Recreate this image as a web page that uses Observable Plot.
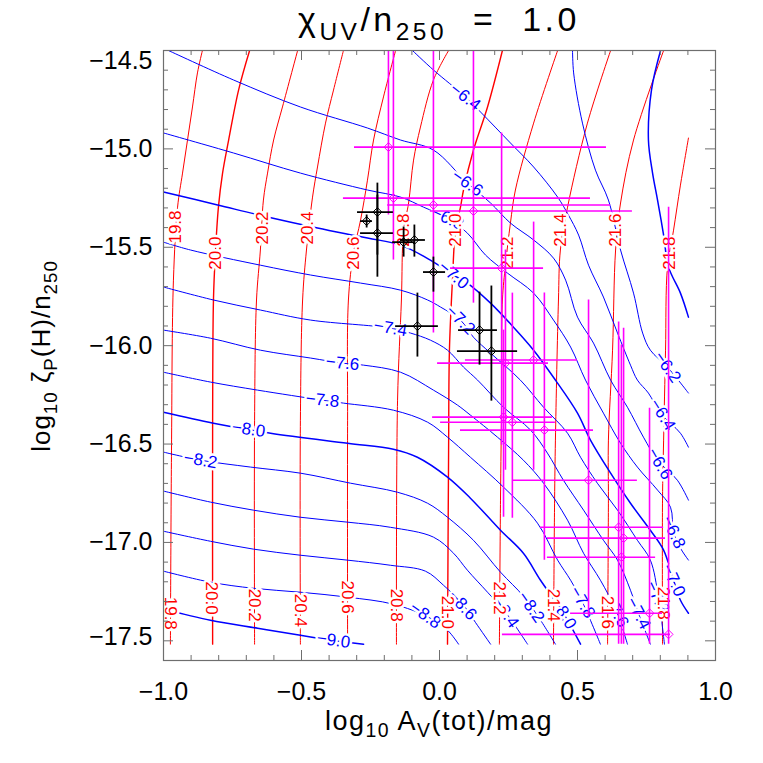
<!DOCTYPE html>
<html>
<head>
<meta charset="utf-8">
<script src="https://cdn.jsdelivr.net/npm/d3@7"></script>
<script src="https://cdn.jsdelivr.net/npm/@observablehq/plot@0.6"></script>
<style>
  html, body { margin: 0; padding: 0; background: #fff; }
  #wrap { position: relative; width: 763px; height: 763px; overflow: hidden; font-family: "Liberation Sans", Arial, sans-serif; color: #000; }
  #chart { position: absolute; left: 0; top: 0; }
  .lbl { position: absolute; white-space: pre; line-height: 1; }
  .lbl sub { font-size: 0.72em; vertical-align: -0.35em; line-height: 0; }
  #title { left: 439px; top: 2px; transform: translateX(-50%); font-size: 34px; letter-spacing: 3.5px; }
  #xlabel { left: 439px; top: 708px; transform: translateX(-50%); font-size: 27px; letter-spacing: 1.5px; }
  #ylabel { left: 41px; top: 356px; transform: translate(-50%, -50%) rotate(-90deg); font-size: 26px; letter-spacing: 1px; }
</style>
</head>
<body>
<div id="wrap">
  <div id="chart"></div>
  <div id="title" class="lbl">χ<sub>UV</sub>/n<sub>250</sub>  =  1.0</div>
  <div id="xlabel" class="lbl">log<sub>10</sub> A<sub>V</sub>(tot)/mag</div>
  <div id="ylabel" class="lbl">log<sub>10</sub> ζ<sub>P</sub>(H)/n<sub>250</sub></div>
</div>
<script>
// ---------- tick values ----------
const xMajor = [-1, -0.5, 0, 0.5, 1];
const xMinor = [-0.9,-0.8,-0.7,-0.6,-0.4,-0.3,-0.2,-0.1,0.1,0.2,0.3,0.4,0.6,0.7,0.8,0.9];
const yMajor = [-17.5,-17,-16.5,-16,-15.5,-15,-14.5];
const yMinor = [-17.4,-17.3,-17.2,-17.1,-16.9,-16.8,-16.7,-16.6,-16.4,-16.3,-16.2,-16.1,-15.9,-15.8,-15.7,-15.6,-15.4,-15.3,-15.2,-15.1,-14.9,-14.8,-14.7,-14.6];

// ---------- red contours (log N) ----------
const redLevels = [19.8, 20.0, 20.2, 20.4, 20.6, 20.8, 21.0, 21.2, 21.4, 21.6, 21.8];
const redPaths = [
 [[-0.975,-17.517],[-0.971,-16.531],[-0.964,-15.667],[-0.949,-15.296],[-0.931,-15.123],[-0.913,-14.955],[-0.895,-14.787],[-0.877,-14.614],[-0.859,-14.5]],
 [[-0.822,-17.517],[-0.822,-16.379],[-0.819,-15.768],[-0.812,-15.530],[-0.801,-15.296],[-0.786,-15.123],[-0.764,-14.955],[-0.728,-14.701],[-0.688,-14.5]],
 [[-0.670,-17.517],[-0.670,-16.379],[-0.663,-15.768],[-0.649,-15.514],[-0.638,-15.260],[-0.623,-15.123],[-0.601,-14.955],[-0.569,-14.787],[-0.514,-14.5]],
 [[-0.504,-17.517],[-0.504,-16.379],[-0.496,-15.768],[-0.482,-15.514],[-0.460,-15.245],[-0.442,-15.092],[-0.413,-14.869],[-0.384,-14.701],[-0.348,-14.5]],
 [[-0.333,-17.517],[-0.333,-16.379],[-0.330,-15.768],[-0.312,-15.530],[-0.286,-15.362],[-0.261,-15.159],[-0.239,-14.955],[-0.203,-14.736],[-0.159,-14.5]],
 [[-0.156,-17.517],[-0.152,-16.277],[-0.138,-15.768],[-0.130,-15.413],[-0.112,-15.275],[-0.094,-15.057],[-0.069,-14.889],[-0.022,-14.650],[0.033,-14.5]],
 [[0.029,-17.517],[0.033,-16.531],[0.036,-16.023],[0.047,-15.667],[0.058,-15.413],[0.076,-15.296],[0.087,-15.209],[0.123,-15.006],[0.174,-14.787],[0.228,-14.5]],
 [[0.217,-17.517],[0.221,-16.785],[0.225,-16.277],[0.228,-15.768],[0.239,-15.591],[0.257,-15.377],[0.275,-15.209],[0.341,-14.869],[0.428,-14.5]],
 [[0.413,-17.517],[0.417,-16.785],[0.420,-16.480],[0.431,-15.768],[0.438,-15.514],[0.464,-15.296],[0.536,-14.869],[0.620,-14.5]],
 [[0.609,-17.517],[0.612,-16.785],[0.612,-16.480],[0.627,-16.023],[0.638,-15.514],[0.656,-15.275],[0.703,-14.955],[0.812,-14.5]],
 [[0.808,-17.517],[0.808,-16.785],[0.812,-16.480],[0.819,-16.023],[0.826,-15.601],[0.848,-15.413],[0.873,-15.184],[0.902,-14.945]]
];
const redLabelsTop = [[-0.957,-15.397],[-0.812,-15.530],[-0.641,-15.402],[-0.478,-15.402],[-0.312,-15.530],[-0.130,-15.413],[0.058,-15.413],[0.246,-15.530],[0.438,-15.413],[0.638,-15.413],[0.833,-15.530]];
const redLabelsBottom = [[-0.975,-17.360],[-0.826,-17.283],[-0.670,-17.319],[-0.504,-17.345],[-0.333,-17.278],[-0.156,-17.319],[0.029,-17.355],[0.217,-17.283],[0.413,-17.319],[0.609,-17.355],[0.812,-17.309]];

// ---------- blue contours (log abundance) ----------
const blueLevels = [-6.0,-6.2,-6.4,-6.6,-6.8,-7.0,-7.2,-7.4,-7.6,-7.8,-8.0,-8.2,-8.4,-8.6,-8.8,-9.0];
const bluePaths = [
 [[0.801,-14.5],[0.768,-14.701],[0.757,-14.955],[0.772,-15.123],[0.790,-15.260],[0.812,-15.438],[0.830,-15.601],[0.873,-15.733],[0.902,-15.855]],
 [[0.482,-14.5],[0.486,-14.614],[0.518,-14.869],[0.565,-15.108],[0.612,-15.260],[0.656,-15.514],[0.703,-15.733],[0.736,-15.936],[0.764,-16.023],[0.826,-16.109],[0.902,-16.241]],
 [[-0.098,-14.5],[-0.022,-14.599],[0.094,-14.736],[0.149,-14.813],[0.257,-14.970],[0.341,-15.092],[0.428,-15.245],[0.467,-15.336],[0.504,-15.438],[0.540,-15.591],[0.594,-15.753],[0.645,-15.936],[0.692,-16.099],[0.717,-16.175],[0.757,-16.241],[0.801,-16.343],[0.873,-16.445],[0.902,-16.516]],
 [[-0.982,-14.5],[-0.746,-14.650],[-0.504,-14.787],[-0.261,-14.894],[-0.141,-14.955],[-0.022,-15.006],[0.101,-15.174],[0.185,-15.275],[0.257,-15.377],[0.341,-15.463],[0.413,-15.555],[0.457,-15.667],[0.500,-15.855],[0.558,-15.987],[0.620,-16.175],[0.681,-16.313],[0.739,-16.465],[0.790,-16.582],[0.862,-16.684],[0.902,-16.785]],
 [[-1.0,-14.919],[-0.746,-15.021],[-0.504,-15.123],[-0.261,-15.209],[-0.141,-15.245],[-0.058,-15.296],[0.029,-15.352],[0.101,-15.428],[0.167,-15.540],[0.246,-15.631],[0.341,-15.733],[0.413,-15.870],[0.475,-16.007],[0.529,-16.175],[0.594,-16.343],[0.656,-16.496],[0.717,-16.617],[0.790,-16.734],[0.837,-16.821],[0.848,-16.948],[0.873,-17.029],[0.902,-17.090]],
 [[-1.0,-15.219],[-0.804,-15.285],[-0.623,-15.346],[-0.442,-15.402],[-0.261,-15.453],[-0.141,-15.489],[-0.033,-15.565],[0.051,-15.641],[0.101,-15.682],[0.185,-15.784],[0.268,-15.906],[0.341,-16.023],[0.420,-16.175],[0.500,-16.343],[0.547,-16.480],[0.620,-16.648],[0.692,-16.801],[0.764,-16.938],[0.812,-17.039],[0.848,-17.192],[0.873,-17.294],[0.902,-17.360]],
 [[-1.0,-15.474],[-0.902,-15.514],[-0.649,-15.591],[-0.467,-15.641],[-0.286,-15.682],[-0.141,-15.718],[-0.043,-15.768],[0.004,-15.804],[0.076,-15.870],[0.123,-15.957],[0.185,-16.038],[0.293,-16.175],[0.377,-16.313],[0.464,-16.445],[0.511,-16.567],[0.572,-16.699],[0.645,-16.836],[0.717,-16.989],[0.764,-17.090],[0.793,-17.278],[0.815,-17.517]],
 [[-1.0,-15.702],[-0.819,-15.768],[-0.649,-15.819],[-0.467,-15.870],[-0.178,-15.911],[-0.105,-15.936],[-0.033,-15.972],[0.029,-16.023],[0.087,-16.109],[0.138,-16.175],[0.232,-16.313],[0.330,-16.429],[0.391,-16.546],[0.449,-16.684],[0.522,-16.836],[0.594,-16.989],[0.645,-17.090],[0.692,-17.243],[0.721,-17.360],[0.764,-17.517]],
 [[-1.0,-15.921],[-0.830,-15.962],[-0.649,-16.023],[-0.467,-16.063],[-0.351,-16.089],[-0.275,-16.099],[-0.141,-16.135],[-0.022,-16.226],[0.065,-16.302],[0.112,-16.353],[0.210,-16.465],[0.304,-16.582],[0.377,-16.699],[0.464,-16.887],[0.522,-17.055],[0.583,-17.192],[0.641,-17.350],[0.681,-17.517]],
 [[-1.0,-16.135],[-0.830,-16.185],[-0.659,-16.226],[-0.424,-16.277],[-0.348,-16.292],[-0.167,-16.328],[-0.043,-16.389],[0.029,-16.465],[0.112,-16.567],[0.232,-16.719],[0.355,-16.902],[0.428,-17.090],[0.475,-17.192],[0.518,-17.304],[0.583,-17.517]],
 [[-1.0,-16.338],[-0.819,-16.394],[-0.612,-16.445],[-0.333,-16.496],[-0.167,-16.526],[-0.080,-16.567],[0.029,-16.668],[0.112,-16.775],[0.221,-16.938],[0.304,-17.055],[0.366,-17.192],[0.449,-17.360],[0.511,-17.517]],
 [[-1.0,-16.541],[-0.866,-16.582],[-0.685,-16.617],[-0.504,-16.648],[-0.322,-16.699],[-0.152,-16.745],[-0.043,-16.801],[0.029,-16.872],[0.123,-16.989],[0.221,-17.151],[0.304,-17.273],[0.366,-17.395],[0.420,-17.517]],
 [[-1.0,-16.739],[-0.830,-16.795],[-0.674,-16.836],[-0.504,-16.872],[-0.333,-16.897],[-0.178,-16.923],[-0.022,-16.973],[0.051,-17.055],[0.101,-17.141],[0.174,-17.253],[0.239,-17.355],[0.319,-17.517]],
 [[-1.0,-16.943],[-0.830,-16.994],[-0.674,-17.034],[-0.504,-17.065],[-0.333,-17.090],[-0.178,-17.116],[-0.051,-17.146],[0.014,-17.217],[0.087,-17.319],[0.130,-17.406],[0.185,-17.517]],
 [[-1.0,-17.146],[-0.830,-17.202],[-0.674,-17.233],[-0.504,-17.253],[-0.333,-17.278],[-0.167,-17.314],[-0.040,-17.380],[0.029,-17.446],[0.069,-17.517]],
 [[-1.0,-17.339],[-0.830,-17.395],[-0.659,-17.436],[-0.504,-17.472],[-0.395,-17.497],[-0.275,-17.517]]
];
const thickBlueLevels = [-6.0, -7.0, -8.0, -9.0];
const thickRedLevels = [20.0, 21.0];
// blue labels: level, x, y
const blueLabels = [
 [-6.4,0.094,-14.736],[-6.6,0.101,-15.174],[-6.8,0.029,-15.352],[-7.0,0.051,-15.641],[-7.2,0.076,-15.870],
 [-7.4,-0.178,-15.911],[-7.6,-0.351,-16.089],[-7.8,-0.424,-16.277],[-8.0,-0.692,-16.425],[-8.2,-0.866,-16.582],[-9.0,-0.384,-17.497],
 [-6.2,0.826,-16.109],[-6.4,0.808,-16.350],[-6.6,0.798,-16.600],[-6.8,0.848,-16.948],[-7.0,0.848,-17.192],[-7.2,0.790,-17.278],
 [-7.4,0.721,-17.360],[-7.6,0.641,-17.350],[-7.8,0.518,-17.304],[-8.0,0.449,-17.360],[-8.2,0.332,-17.329],[-8.4,0.239,-17.355],
 [-8.6,0.083,-17.319],[-8.8,-0.051,-17.370]
];
const blueLabelAngles = [38,35,25,40,45, 10,6,6,8,10,8, 55,58,60,65,65,65, 62,62,60,58,55,55, 48,35];

// ---------- observations ----------
const magX   = [-0.185,-0.167,-0.022,0.123,0.225,0.239,0.341,0.232,0.264,0.380,0.540,0.649,0.667,0.659,0.761,0.830];
const magY   = [-14.991,-15.250,-15.285,-15.316,-15.606,-16.089,-16.073,-16.363,-16.389,-16.429,-16.684,-16.923,-16.978,-17.075,-17.360,-17.467];
const magXlo = [-0.308,-0.348,-0.188,-0.033,0.040,-0.007,0.094,-0.025,0.004,0.076,0.268,0.366,0.391,0.391,0.475,0.228];
const magXhi = [0.605,0.547,0.620,0.699,0.377,0.395,0.500,0.409,0.420,0.558,0.717,0.812,0.819,0.783,0.808,0.837];
const magYlo = [-15.336,-15.565,-15.936,-15.784,-16.506,-16.633,-16.633,-16.872,-16.877,-17.090,-17.380,-17.517,-17.517,-17.517,-17.517,-17.517];
const magYhi = [-14.5,-14.5,-14.5,-14.5,-14.919,-15.514,-15.372,-15.921,-15.733,-15.733,-15.768,-15.880,-15.911,-15.997,-16.318,-15.296];

const blkX   = [-0.264,-0.225,-0.225,-0.130,-0.091,-0.022,-0.080,0.145,0.188];
const blkY   = [-15.367,-15.321,-15.428,-15.474,-15.463,-15.626,-15.901,-15.921,-16.028];
const blkXlo = [-0.286,-0.297,-0.286,-0.170,-0.141,-0.058,-0.159,0.069,0.065];
const blkXhi = [-0.243,-0.167,-0.167,-0.087,-0.051,0.022,-0.004,0.210,0.283];
const blkYlo = [-15.402,-15.540,-15.652,-15.550,-15.550,-15.728,-16.058,-16.099,-16.282];
const blkYhi = [-15.336,-15.174,-15.235,-15.397,-15.387,-15.550,-15.733,-15.728,-15.697];

// ---------- build tables ----------
const fmt = d3.format(".1f");
const toRows = (levels, paths) => paths.flatMap((p, i) => p.map(([x, y]) => ({level: levels[i], x, y})));
const redRows = toRows(redLevels, redPaths);
const blueRows = toRows(blueLevels, bluePaths);
const isThickRed = d => thickRedLevels.includes(d.level);
const isThickBlue = d => thickBlueLevels.includes(d.level);
const redLabelRows = [
  ...redLabelsTop.map(([x, y], i) => ({x, y, text: fmt(redLevels[i]), rot: -90})),
  ...redLabelsBottom.map(([x, y], i) => ({x, y, text: fmt(redLevels[i]), rot: 90}))
];
const blueLabelRows = blueLabels.map(([lv, x, y], i) => ({x, y, text: fmt(lv), rot: blueLabelAngles[i]}));
const magRows = magX.map((x, i) => ({x, y: magY[i], xlo: magXlo[i], xhi: magXhi[i], ylo: magYlo[i], yhi: magYhi[i]}));
const blkRows = blkX.map((x, i) => ({x, y: blkY[i], xlo: blkXlo[i], xhi: blkXhi[i], ylo: blkYlo[i], yhi: blkYhi[i]}));

const W = 763, H = 763, mL = 163, mR = 48, mT = 50, mB = 103;
const fw = W - mL - mR, fh = H - mT - mB;
const tickColor = "#6e6e6e";
const MAJ = 10, MIN = 5;
const yMid = yMajor.slice(1, -1);

const chart = Plot.plot({
  width: W, height: H,
  marginLeft: mL, marginRight: mR, marginTop: mT, marginBottom: mB,
  x: {domain: [-1, 1]},
  y: {domain: [-17.6, -14.5]},
  style: {fontFamily: "'Liberation Sans', Arial, sans-serif", background: "#fff", color: "#000", overflow: "visible"},
  marks: [
    // contours
    Plot.line(redRows.filter(d => !isThickRed(d)), {x: "x", y: "y", z: "level", stroke: "#ff0000", strokeWidth: 1, curve: "catmull-rom", clip: true}),
    Plot.line(redRows.filter(isThickRed), {x: "x", y: "y", z: "level", stroke: "#ff0000", strokeWidth: 1.4, curve: "catmull-rom", clip: true}),
    Plot.line(blueRows.filter(d => !isThickBlue(d)), {x: "x", y: "y", z: "level", stroke: "#0000ff", strokeWidth: 1, curve: "catmull-rom", clip: true}),
    Plot.line(blueRows.filter(isThickBlue), {x: "x", y: "y", z: "level", stroke: "#0000ff", strokeWidth: 1.5, curve: "catmull-rom", clip: true}),
    // contour labels
    Plot.text(blueLabelRows, {x: "x", y: "y", text: "text", rotate: "rot", fill: "#0000ff", stroke: "#fff", strokeWidth: 5, fontSize: 17}),
    Plot.text(redLabelRows, {x: "x", y: "y", text: "text", rotate: "rot", fill: "#ff0000", stroke: "#fff", strokeWidth: 5, fontSize: 17}),
    // magenta observations
    Plot.ruleY(magRows, {y: "y", x1: "xlo", x2: "xhi", stroke: "#ff00ff", strokeWidth: 1.6, clip: true}),
    Plot.ruleX(magRows, {x: "x", y1: "ylo", y2: "yhi", stroke: "#ff00ff", strokeWidth: 1.6, clip: true}),
    Plot.dot(magRows, {x: "x", y: "y", symbol: "diamond2", r: 4, stroke: "#ff00ff", strokeWidth: 1, fill: "#fff", fillOpacity: 0}),
    // black observations
    Plot.ruleY(blkRows, {y: "y", x1: "xlo", x2: "xhi", stroke: "#000", strokeWidth: 1.8}),
    Plot.ruleX(blkRows, {x: "x", y1: "ylo", y2: "yhi", stroke: "#000", strokeWidth: 1.8}),
    Plot.dot(blkRows, {x: "x", y: "y", symbol: "diamond2", r: 4, stroke: "#000", strokeWidth: 1, fill: "#fff", fillOpacity: 0}),
    // ticks (inward, all four sides)
    Plot.ruleX(xMajor, {stroke: tickColor, insetTop: fh - MAJ}),
    Plot.ruleX(xMajor, {stroke: tickColor, insetBottom: fh - MAJ}),
    Plot.ruleX(xMinor, {stroke: tickColor, insetTop: fh - MIN}),
    Plot.ruleX(xMinor, {stroke: tickColor, insetBottom: fh - MIN}),
    Plot.ruleY(yMajor, {stroke: tickColor, insetRight: fw - MAJ}),
    Plot.ruleY(yMajor, {stroke: tickColor, insetLeft: fw - MAJ}),
    Plot.ruleY(yMinor, {stroke: tickColor, insetRight: fw - MIN}),
    Plot.ruleY(yMinor, {stroke: tickColor, insetLeft: fw - MIN}),
    Plot.frame({stroke: tickColor, strokeWidth: 1.2}),
    // tick labels
    Plot.axisX({anchor: "bottom", ticks: xMajor, tickSize: 0, tickPadding: 22, fontSize: 25, tickFormat: fmt, label: null}),
    Plot.axisY({anchor: "left", ticks: yMid, tickSize: 0, tickPadding: 11, fontSize: 25, tickFormat: fmt, label: null}),
    Plot.axisY({anchor: "left", ticks: [yMajor[yMajor.length - 1]], tickSize: 0, tickPadding: 11, fontSize: 25, tickFormat: fmt, label: null, dy: 10}),
    Plot.axisY({anchor: "left", ticks: [yMajor[0]], tickSize: 0, tickPadding: 11, fontSize: 25, tickFormat: fmt, label: null, dy: -4})
  ]
});
document.getElementById("chart").appendChild(chart);
</script>
</body>
</html>
